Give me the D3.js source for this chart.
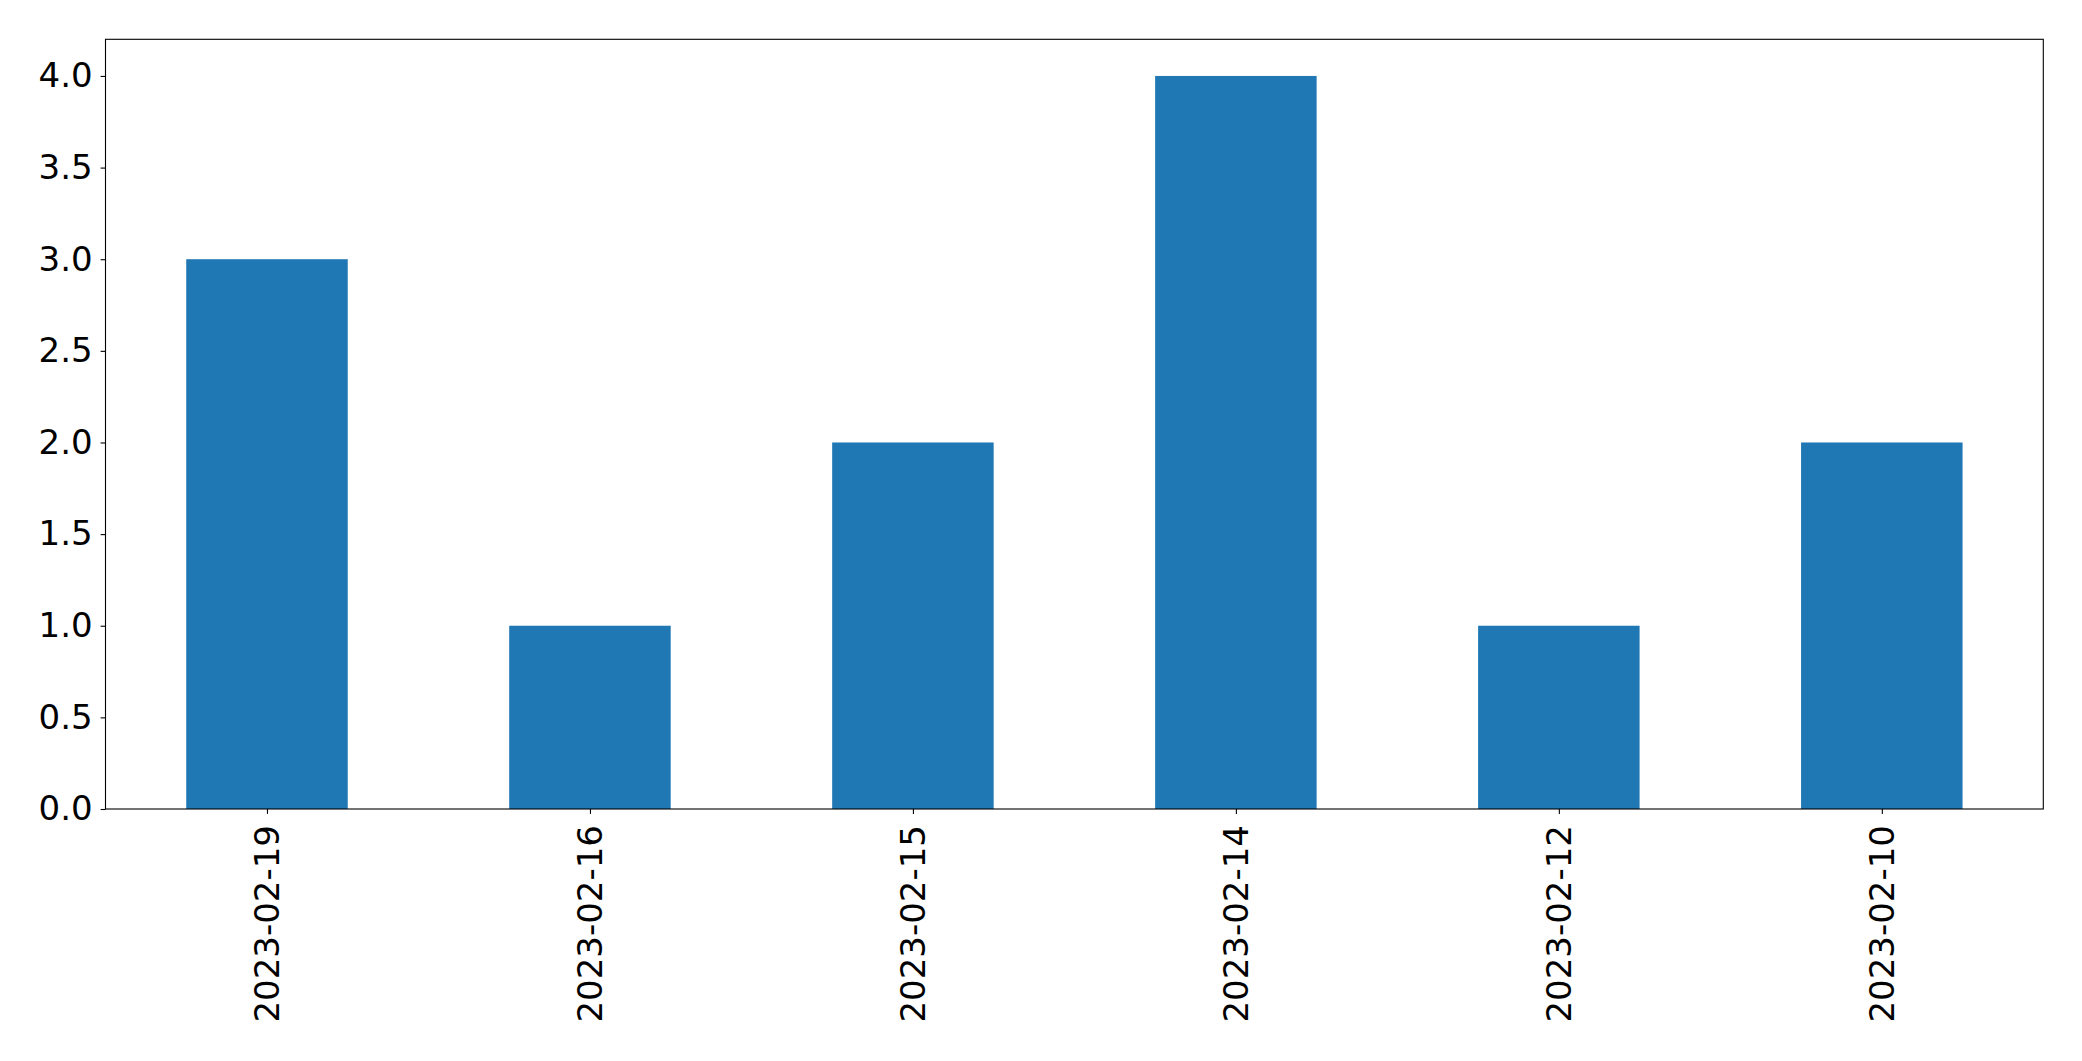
<!DOCTYPE html>
<html><head><meta charset="utf-8">
<script src="https://cdn.jsdelivr.net/npm/d3@7"></script>
<style>body{margin:0;background:#fff}svg{display:block}text{font-family:"DejaVu Sans",sans-serif;fill:#000}</style>
</head><body>
<svg id="c" width="2082" height="1061"></svg>
<script>
const categories = ["2023-02-19","2023-02-16","2023-02-15","2023-02-14","2023-02-12","2023-02-10"];
const values = [3, 1, 2, 4, 1, 2];
const yTicks = [0, 0.5, 1, 1.5, 2, 2.5, 3, 3.5, 4];

const L = 105.5, R = 2043.3, T = 39.3, B = 809;
const svg = d3.select("#c");
const x = d3.scaleLinear().domain([-0.5, categories.length - 0.5]).range([L, R]);
const y = d3.scaleLinear().domain([0, 4.2]).range([B, T]);

svg.selectAll("rect.bar").data(values).enter().append("rect")
  .attr("class","bar")
  .attr("x",(d,i)=>x(i-0.25)).attr("width",(d,i)=>x(i+0.25)-x(i-0.25))
  .attr("y",d=>y(d)).attr("height",d=>y(0)-y(d))
  .attr("fill","#1f77b4");

const fs = "34px";
const yAxis = d3.axisLeft(y).tickValues(yTicks).tickFormat(d3.format(".1f")).tickSize(4.9).tickPadding(8);
const gy = svg.append("g").attr("transform",`translate(${L},0)`).call(yAxis);
gy.select(".domain").remove();
gy.selectAll("line").attr("stroke","#000").attr("stroke-width",1.1);
gy.selectAll("text").style("font-size",fs).attr("font-family","DejaVu Sans");

const xAxis = d3.axisBottom(x).tickValues(d3.range(categories.length)).tickFormat(i=>categories[i]).tickSize(4.9).tickPadding(0);
const gx = svg.append("g").attr("transform",`translate(0,${B})`).call(xAxis);
gx.select(".domain").remove();
gx.selectAll("line").attr("stroke","#000").attr("stroke-width",1.1);
gx.selectAll("text").style("font-size",fs).attr("font-family","DejaVu Sans")
  .attr("text-anchor","end").attr("dy","0.35em").attr("y",0)
  .attr("transform","translate(0,16) rotate(-90)");

svg.append("rect").attr("x",L).attr("y",T).attr("width",R-L).attr("height",B-T)
  .attr("fill","none").attr("stroke","#000").attr("stroke-width",1.1);
</script>
</body></html>
